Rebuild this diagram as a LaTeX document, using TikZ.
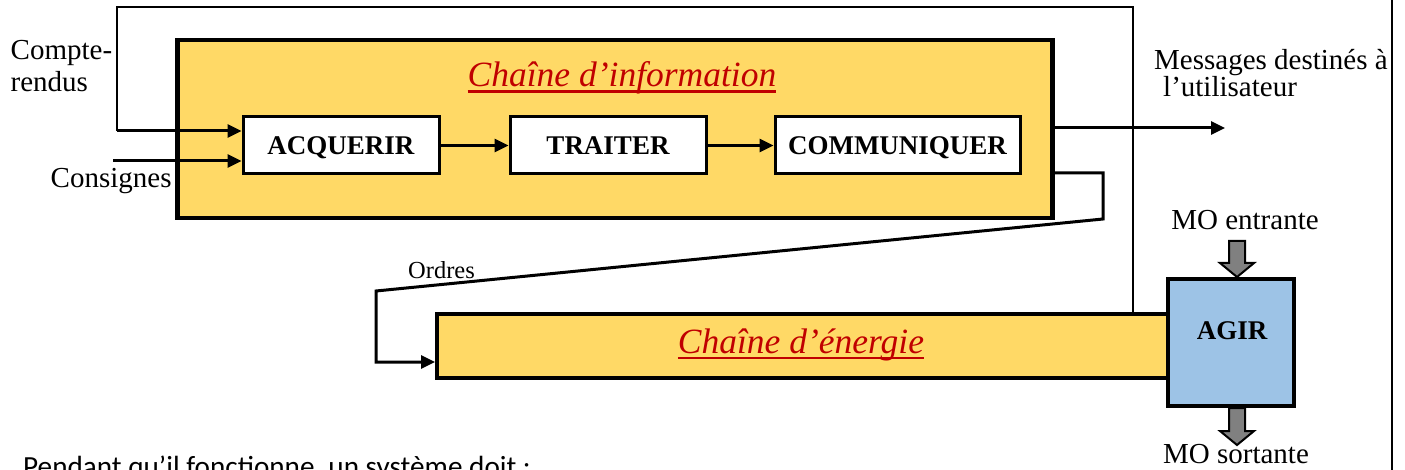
\documentclass[tikz,border=0pt]{standalone}
\usepackage{fontspec}
\setmainfont{Liberation Serif}
\newfontfamily\bodysans{Carlito}
\usetikzlibrary{arrows.meta,calc}
\definecolor{chainyellow}{RGB}{255,217,102}
\definecolor{agirblue}{RGB}{157,195,230}
\definecolor{titlered}{RGB}{192,0,0}
\definecolor{flowgray}{RGB}{128,128,128}
\newcommand{\thickul}[1]{\leavevmode\setbox0=\hbox{#1}\rlap{\vrule width \wd0 height -3.5pt depth 6pt}\box0}
\begin{document}
\begin{tikzpicture}[x=1pt,y=-1pt,
  chainbox/.style={draw, fill=chainyellow, line width=4.5pt, inner sep=0pt},
  fnbox/.style={draw, fill=white, line width=3pt, inner sep=0pt, minimum height=57pt,
    text height=18pt, text depth=0pt, font=\fontsize{27}{30}\selectfont\bfseries},
  agirbox/.style={draw, fill=agirblue, line width=4pt, inner sep=0pt},
  lbl/.style={inner sep=0pt, font=\fontsize{29}{32}\selectfont},
  chaintitle/.style={inner sep=0pt, text=titlered, font=\fontsize{35.5}{40}\selectfont\itshape},
  flow/.style={line width=3pt, line join=miter, -{Triangle[length=14pt,width=13pt]}},
  loopline/.style={line width=2pt, line join=miter},
  blockarr/.style={draw, fill=flowgray, line width=2pt, line join=miter}
]
\useasboundingbox (0,0) rectangle (1405,470);
% right border line
\coordinate (rtop) at (1392,0);
\coordinate (rbot) at (1392,470);
\draw[line width=2pt] (rtop) -- (rbot);

% information chain
\node[chainbox, minimum width=875pt, minimum height=178pt] (info) at (615,129) {};
\node[chaintitle, anchor=base] (infotitle) at (622,87) {\thickul{Chaîne d’information}};
\node[fnbox, minimum width=196pt] (acq) at (341,145.5) {ACQUERIR};
\node[fnbox, minimum width=196pt] (tra) at (608,145.5) {TRAITER};
\node[fnbox, minimum width=245pt] (com) at (897.5,145.5) {COMMUNIQUER};
\draw[flow] (acq) -- (tra);
\draw[flow] (tra) -- (com);

% energy chain
\node[chainbox, line width=4pt, minimum width=733pt, minimum height=64.5pt] (energy) at (803.5,345.75) {};
\node[chaintitle, anchor=base] (energytitle) at (801,353) {\thickul{Chaîne d'énergie}};

% AGIR
\node[agirbox, minimum width=126pt, minimum height=127pt] (agir) at (1231,342.5) {};
\node[inner sep=0pt, anchor=base, font=\fontsize{27}{30}\selectfont\bfseries] (agirtxt) at (1232,339) {AGIR};

% feedback loop (comptes-rendus)
\coordinate (fbA) at (1133,7);
\coordinate (fbB) at (117,7);
\coordinate (fbC) at (117,131);
\draw[loopline] (energy.north -| fbA) -- (fbA) -- (fbB) -- (fbC);
\draw[flow] (fbC) -- (fbC -| acq.west);
\node[lbl, anchor=base west, align=left, font=\fontsize{29}{31.7}\selectfont] (cr) at (10.5,91.7) {Compte-\\rendus};

% consignes
\coordinate (consA) at (113,161);
\draw[flow] (consA) -- (consA -| acq.west);
\node[lbl, anchor=base west] (cons) at (50.5,188) {Consignes};

% messages
\coordinate (msgEnd) at (1225,128);
\draw[flow] (info.east |- msgEnd) -- (msgEnd);
\node[lbl, anchor=base west, align=left, font=\fontsize{29}{24.5}\selectfont] (msg) at (1154,97)
  {Messages destinés à\\\hspace*{9pt}l’utilisateur};

% ordres
\coordinate (ordA) at (1103,173);
\coordinate (ordB) at (1103,219);
\coordinate (ordC) at (376,291);
\coordinate (ordD) at (376,362);
\draw[flow] (info.east |- ordA) -- (ordA) -- (ordB) -- (ordC) -- (ordD) -- (ordD -| energy.west);
\node[inner sep=0pt, anchor=base west, font=\fontsize{24.5}{28}\selectfont] (ord) at (408,279) {Ordres};

% matière d'oeuvre
\coordinate (moinTip) at ($(agir.north)+(6,0)$);
\draw[blockarr] (moinTip) -- ++(-17,-14) -- ++(9,0) -- ++(0,-22) -- ++(16,0) -- ++(0,22) -- ++(9,0) -- cycle;
\coordinate (mooutTop) at ($(agir.south)+(6,0)$);
\draw[blockarr] (mooutTop) ++(-8,0) -- ++(0,23) -- ++(-9,0) -- ++(17,14) -- ++(17,-14) -- ++(-9,0) -- ++(0,-23) -- cycle;
\node[lbl, anchor=base] (moin) at (1245,230) {MO entrante};
\node[lbl, anchor=base] (moout) at (1236,463) {MO sortante};

% bottom sentence (cut by the frame, as in the reference)
\node[inner sep=0pt, anchor=base west, font=\bodysans\fontsize{29.2}{32}\selectfont] (sent) at (23,476)
  {Pendant qu’il fonctionne, un système doit :};
\end{tikzpicture}
\end{document}
